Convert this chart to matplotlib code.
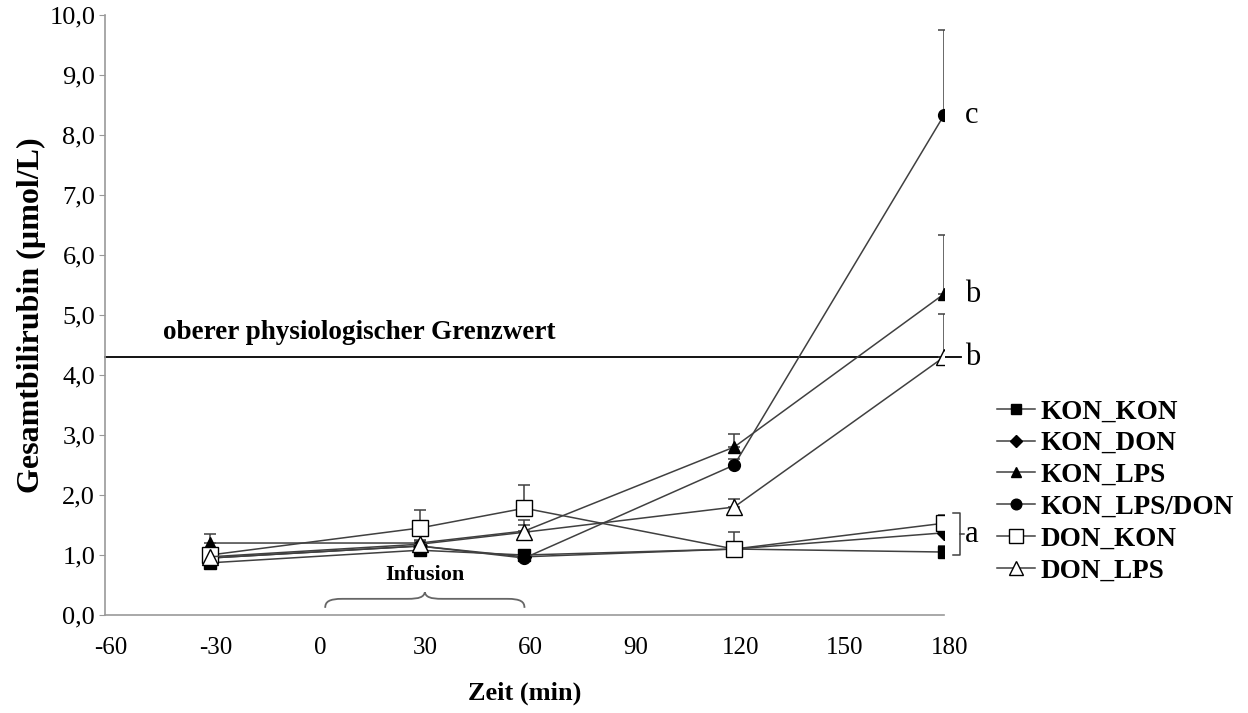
import numpy as np
import matplotlib.pyplot as plt
import matplotlib.transforms as mtransforms
from matplotlib.path import Path
from matplotlib.patches import PathPatch

plt.rcParams['font.family'] = ['Liberation Serif', 'DejaVu Serif']
plt.rcParams['axes.unicode_minus'] = False

# data
zeit = [-30, 30, 60, 120, 180]
gruppen = ['KON_KON', 'KON_DON', 'KON_LPS', 'KON_LPS/DON', 'DON_KON', 'DON_LPS']
kon_kon = [0.87, 1.08, 1.00, 1.10, 1.05]
kon_kon_err = [0.05, 0.05, 0.06, 0.08, 0.10]
kon_don = [0.95, 1.15, 0.97, 1.10, 1.37]
kon_don_err = [0.05, 0.05, 0.05, 0.08, 0.08]
kon_lps = [1.20, 1.20, 1.40, 2.80, 5.35]
kon_lps_err = [0.15, 0.05, 0.10, 0.22, 0.98]
kon_lps_don = [0.95, 1.15, 0.95, 2.50, 8.33]
kon_lps_don_err = [0.05, 0.05, 0.10, 0.10, 1.42]
don_kon = [1.00, 1.45, 1.78, 1.10, 1.53]
don_kon_err = [0.05, 0.30, 0.39, 0.28, 0.14]
don_lps = [0.97, 1.18, 1.38, 1.80, 4.30]
don_lps_err = [0.05, 0.05, 0.20, 0.13, 0.72]
grenzwert = 4.3
buchstaben = ['c', 'b', 'b', 'a']
buchstaben_y = [8.33, 5.35, 4.3, 1.35]

serien = [kon_kon, kon_don, kon_lps, kon_lps_don, don_kon, don_lps]
fehler = [kon_kon_err, kon_don_err, kon_lps_err, kon_lps_don_err, don_kon_err, don_lps_err]
marker = ['s', 'D', '^', 'o', 's', '^']
fuellung = ['black', 'black', 'black', 'black', 'white', 'white']
groesse = [8.5, 7, 8, 8.5, 11, 11]

fig = plt.figure(figsize=(12.48, 7.13), dpi=100)
ax = fig.add_axes([0.0841, 0.1374, 0.6723, 0.8416])

grau = '#404040'
handles = []
for s, e, m, f, g, name in zip(serien, fehler, marker, fuellung, groesse, gruppen):
    ax.errorbar(zeit, s, yerr=[np.zeros(len(e)), e], fmt='none', ecolor=grau,
                elinewidth=1.1, capsize=4, capthick=1.1, zorder=2)
    h, = ax.plot(zeit, s, color=grau, lw=1.1, marker=m, ms=g, mfc=f, mec='black',
                 mew=1.0, zorder=3, label=name)
    handles.append(h)

# physiological upper limit
ax.plot([-60, 185], [grenzwert, grenzwert], color='black', lw=1.3, clip_on=False, zorder=1)
ax.text(-43.5, grenzwert + 0.2, 'oberer physiologischer Grenzwert', fontsize=19.5,
        fontweight='bold', va='bottom', ha='left')

# significance letters
for b, y in zip(buchstaben, buchstaben_y):
    ax.text(186, y, b, fontsize=22, va='center', ha='left', clip_on=False)

# bracket for group a
bx0, bx1 = 182.5, 184.5
by0, by1 = 1.0, 1.7
ax.plot([bx0, bx1, bx1, bx0], [by1, by1, by0, by0], color=grau, lw=1.1, clip_on=False)
ax.plot([bx1, 185.8], [1.35, 1.35], color=grau, lw=1.1, clip_on=False)

# infusion brace
x0, x1, xm = 3, 60, 31.5
yb, yf, yp = 0.12, 0.27, 0.38
verts = [(x0, yb),
         (x0, yf - 0.05), (x0 + 1, yf), (x0 + 5, yf),
         (xm - 5, yf),
         (xm - 1.5, yf), (xm - 0.3, yf + 0.03), (xm, yp),
         (xm + 0.3, yf + 0.03), (xm + 1.5, yf), (xm + 5, yf),
         (x1 - 5, yf),
         (x1 - 1, yf), (x1, yf - 0.05), (x1, yb)]
codes = [Path.MOVETO,
         Path.CURVE4, Path.CURVE4, Path.CURVE4,
         Path.LINETO,
         Path.CURVE4, Path.CURVE4, Path.CURVE4,
         Path.CURVE4, Path.CURVE4, Path.CURVE4,
         Path.LINETO,
         Path.CURVE4, Path.CURVE4, Path.CURVE4]
ax.add_patch(PathPatch(Path(verts, codes), fc='none', ec='#666666', lw=1.3))
ax.text(xm, 0.5, 'Infusion', fontsize=16, fontweight='bold', ha='center', va='bottom')

ax.set_xlim(-60, 180)
ax.set_ylim(0, 10)
ax.set_xticks(np.arange(-60, 181, 30))
ax.set_yticks(np.arange(0, 10.1, 1))
ax.set_yticklabels([f'{v:.1f}'.replace('.', ',') for v in np.arange(0, 10.1, 1)])
ax.tick_params(axis='x', length=0, labelsize=18, pad=16)
ax.tick_params(axis='y', length=4, color='#999999', labelsize=19, pad=3)
versatz = mtransforms.ScaledTranslation(6 / 100, 0, fig.dpi_scale_trans)
for lbl in ax.get_xticklabels():
    lbl.set_transform(lbl.get_transform() + versatz)
for sp in ['top', 'right']:
    ax.spines[sp].set_visible(False)
for sp in ['left', 'bottom']:
    ax.spines[sp].set_color('#999999')
    ax.spines[sp].set_linewidth(1.2)

ax.set_xlabel('Zeit (min)', fontsize=19, fontweight='bold', labelpad=16)
ax.set_ylabel('Gesamtbilirubin (µmol/L)', fontsize=23, fontweight='bold', labelpad=2)

fig.legend(handles=handles, loc='upper left', bbox_to_anchor=(0.79, 0.455),
           frameon=False, prop={'size': 19.5, 'weight': 'bold'}, handlelength=1.4,
           handletextpad=0.2, labelspacing=0.25, borderaxespad=0, markerscale=0.9)

fig.savefig('out.png', dpi=100)
